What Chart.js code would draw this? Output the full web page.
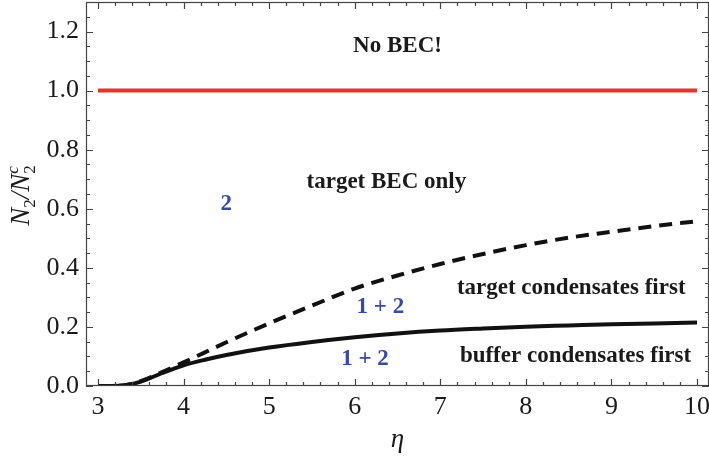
<!DOCTYPE html>
<html>
<head>
<meta charset="utf-8">
<script src="https://cdn.jsdelivr.net/npm/chart.js@4.4.1/dist/chart.umd.min.js"></script>
<style>
  html, body { margin: 0; padding: 0; background: #fff; }
  #wrap { width: 709px; height: 465px; }
</style>
</head>
<body>
<div id="wrap"><canvas id="becChart" width="709" height="465"></canvas></div>
<script>
// values
var etaValues = [3, 3.25, 3.5, 3.75, 4, 4.25, 4.5, 5, 5.5, 6, 6.5, 7, 7.5, 8, 8.5, 9, 9.5, 10];
var bufferFirst = [0, 0.001, 0.015, 0.044, 0.07, 0.089, 0.105, 0.13, 0.149, 0.165, 0.178, 0.188, 0.195, 0.201, 0.205, 0.209, 0.212, 0.215];
var targetFirst = [0, 0.001, 0.016, 0.047, 0.08, 0.114, 0.148, 0.212, 0.272, 0.33, 0.374, 0.413, 0.447, 0.477, 0.502, 0.522, 0.541, 0.558];
var limitEta = [3, 10];
var limitValue = [1, 1];

var xTicks = [3, 4, 5, 6, 7, 8, 9, 10];
var yTicks = [0, 0.2, 0.4, 0.6, 0.8, 1.0, 1.2];

var regionLabels = [
    { text: 'No BEC!', x: 6.5, y: 1.151, color: '#1a1a1a' },
    { text: 'target BEC only', x: 6.37, y: 0.689, color: '#1a1a1a' },
    { text: '2', x: 4.5, y: 0.616, color: '#374ba0' },
    { text: '1 + 2', x: 6.3, y: 0.268, color: '#374ba0' },
    { text: 'target condensates first', x: 8.53, y: 0.332, color: '#1a1a1a' },
    { text: '1 + 2', x: 6.12, y: 0.091, color: '#374ba0' },
    { text: 'buffer condensates first', x: 8.58, y: 0.103, color: '#1a1a1a' }
];

function toPoints(xs, ys) {
    return xs.map(function (x, i) { return { x: x, y: ys[i] }; });
}

var serif = '"Liberation Serif", "Times New Roman", serif';

// frame with inward ticks on all four sides, plus axis titles and region labels
var framePlugin = {
    id: 'frame',
    afterDraw: function (chart) {
        var ctx = chart.ctx;
        var a = chart.chartArea;
        var xs = chart.scales.x, ys = chart.scales.y;
        ctx.save();

        // region labels
        ctx.font = 'bold 23px ' + serif;
        ctx.textAlign = 'center';
        ctx.textBaseline = 'middle';
        regionLabels.forEach(function (l) {
            ctx.fillStyle = l.color;
            ctx.fillText(l.text, xs.getPixelForValue(l.x), ys.getPixelForValue(l.y));
        });

        ctx.strokeStyle = '#444';
        ctx.lineWidth = 1.2;
        ctx.strokeRect(a.left + 0.5, a.top + 0.5, a.right - a.left - 1, a.bottom - a.top - 1);

        ctx.beginPath();
        var v, p, len;
        for (v = 3; v <= 10.001; v += 0.2) {
            p = Math.round(xs.getPixelForValue(v)) + 0.5;
            len = Math.abs(v - Math.round(v)) < 0.01 ? 7 : 4;
            ctx.moveTo(p, a.bottom); ctx.lineTo(p, a.bottom - len);
            ctx.moveTo(p, a.top); ctx.lineTo(p, a.top + len);
        }
        for (v = 0; v <= 1.3001; v += 0.05) {
            p = Math.round(ys.getPixelForValue(v)) + 0.5;
            len = Math.abs(v * 5 - Math.round(v * 5)) < 0.01 ? 7 : 4;
            ctx.moveTo(a.left, p); ctx.lineTo(a.left + len, p);
            ctx.moveTo(a.right, p); ctx.lineTo(a.right - len, p);
        }
        ctx.stroke();

        // x title
        ctx.fillStyle = '#1a1a1a';
        ctx.font = 'italic 27px ' + serif;
        ctx.textAlign = 'center';
        ctx.textBaseline = 'alphabetic';
        ctx.fillText('\u03B7', (a.left + a.right) / 2, 447);

        // y title N_2 / N_2^c
        ctx.translate(29, 196);
        ctx.rotate(-Math.PI / 2);
        ctx.textAlign = 'left';
        var big = 'italic 27px ' + serif, sub = '17px ' + serif, sup = 'italic 17px ' + serif;
        var parts = [
            { t: 'N', f: big, dy: 0 },
            { t: '2', f: sub, dy: 6 },
            { t: '/N', f: big, dy: 0 },
            { t: '2', f: sub, dy: 6, stack: true },
            { t: 'c', f: sup, dy: -11 }
        ];
        var total = 0;
        parts.forEach(function (pt) {
            ctx.font = pt.f;
            pt.w = ctx.measureText(pt.t).width;
            if (!pt.stack) total += pt.w;
        });
        var cx = -total / 2;
        parts.forEach(function (pt) {
            ctx.font = pt.f;
            ctx.fillText(pt.t, cx, pt.dy);
            if (!pt.stack) cx += pt.w;
        });
        ctx.restore();
    }
};

var ctx = document.getElementById('becChart').getContext('2d');
var becChart = new Chart(ctx, {
    type: 'line',
    data: {
        datasets: [{
            label: 'limit',
            data: toPoints(limitEta, limitValue),
            borderColor: '#e2362c',
            borderWidth: 4,
            pointRadius: 0
        },
        {
            label: 'target condensates first',
            data: toPoints(etaValues, targetFirst),
            borderColor: '#111',
            borderWidth: 4,
            borderDash: [13, 8],
            pointRadius: 0,
            cubicInterpolationMode: 'monotone'
        },
        {
            label: 'buffer condensates first',
            data: toPoints(etaValues, bufferFirst),
            borderColor: '#111',
            borderWidth: 4,
            pointRadius: 0,
            cubicInterpolationMode: 'monotone'
        }]
    },
    options: {
        responsive: false,
        animation: false,
        events: [],
        layout: { padding: { top: 2, right: 0, left: 0, bottom: 0 } },
        plugins: {
            legend: { display: false },
            tooltip: { enabled: false }
        },
        scales: {
            x: {
                type: 'linear',
                min: 2.86,
                max: 10.14,
                grid: { display: false, drawTicks: false, tickLength: 0 },
                border: { display: false },
                afterBuildTicks: function (scale) {
                    scale.ticks = xTicks.map(function (v) { return { value: v }; });
                },
                afterFit: function (scale) {
                    scale.height = 79;
                    scale.paddingLeft = 0;
                    scale.paddingRight = 0;
                },
                ticks: {
                    padding: 6,
                    color: '#1a1a1a',
                    font: { family: serif, size: 26 },
                    maxRotation: 0,
                    callback: function (v) { return String(v); }
                }
            },
            y: {
                min: 0,
                max: 1.3,
                grid: { display: false, drawTicks: false, tickLength: 0 },
                border: { display: false },
                afterBuildTicks: function (scale) {
                    scale.ticks = yTicks.map(function (v) { return { value: v }; });
                },
                afterFit: function (scale) {
                    scale.width = 86;
                    scale.paddingTop = 0;
                    scale.paddingBottom = 0;
                },
                ticks: {
                    padding: 7,
                    color: '#1a1a1a',
                    font: { family: serif, size: 26 },
                    callback: function (v) { return v.toFixed(1); }
                }
            }
        }
    },
    plugins: [framePlugin]
});
</script>
</body>
</html>
